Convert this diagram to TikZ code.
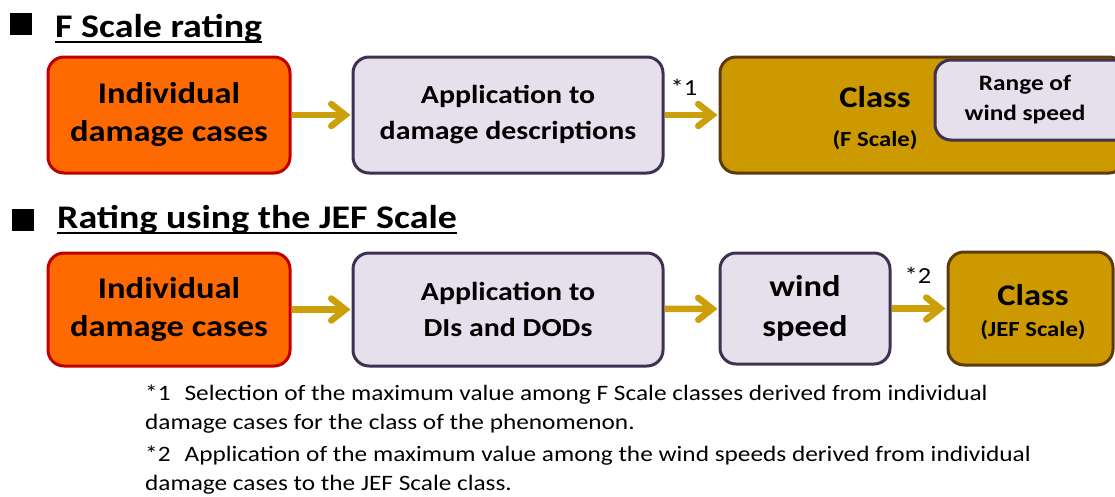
\documentclass[tikz,border=0pt]{standalone}
\usepackage{fontspec}
\setmainfont[FakeStretch=1.15]{Carlito}
\usetikzlibrary{arrows.meta}
\definecolor{orangefill}{HTML}{FF6A00}
\definecolor{redline}{HTML}{C00000}
\definecolor{lavfill}{HTML}{E6E0EC}
\definecolor{lavline}{HTML}{3F3151}
\definecolor{goldfill}{HTML}{CC9900}
\definecolor{brownline}{HTML}{5C3A0C}
\definecolor{arrowcol}{HTML}{CCA00A}
\tikzset{
  x=1pt, y=-1pt,
  box/.style={draw, line width=3pt, rounded corners=16pt, inner sep=0pt, align=center},
  orangebox/.style={box, draw=redline, fill=orangefill},
  lavbox/.style={box, draw=lavline, fill=lavfill},
  goldbox/.style={box, draw=brownline, fill=goldfill},
  big/.style={font=\bfseries\fontsize{30}{38}\selectfont},
  mid/.style={font=\bfseries\fontsize{22}{30}\selectfont},
  small/.style={font=\bfseries\fontsize{21.5}{25}\selectfont},
  flow/.style={draw=arrowcol, line width=6.5pt, shorten >=1pt, -{Straight Barb[length=14pt,width=22pt,line cap=round]}},
  title/.style={font=\bfseries\fontsize{33}{38}\selectfont, anchor=base west, inner sep=0pt},
  note/.style={font=\fontsize{22}{25}\selectfont, anchor=base west, inner sep=0pt},
  star/.style={font=\fontsize{23}{26}\selectfont, inner sep=0pt},
}
\begin{document}
\begin{tikzpicture}
\useasboundingbox (0,0) rectangle (1115,496);
\clip (0,0) rectangle (1115,496);
% headings
\fill (10,13) rectangle (32,35);
\node[title] (t1) at (55,37) {F Scale rating};
\draw[line width=2pt] ([yshift=-5pt]t1.base west) -- ([yshift=-5pt]t1.base east);
\fill (12,209) rectangle (34,231);
\node[title] (t2) at (57,228) {Rating using the JEF Scale};
\draw[line width=2pt] ([yshift=-5pt]t2.base west) -- ([yshift=-5pt]t2.base east);
% row 1
\node[orangebox, big, minimum width=242pt, minimum height=116pt] (o1) at (169,115) {Individual\\damage cases};
\node[lavbox, minimum width=310pt, minimum height=116pt, font=\bfseries\fontsize{26}{36}\selectfont] (a1) at (508,115) {Application to\\damage descriptions};
\node[goldbox, minimum width=405pt, minimum height=116pt] (c1) at (922.5,115) {};
\node[lavbox, mid, minimum width=200pt, minimum height=80pt] (r1) at (1035,100) {\hspace*{-20pt}Range of\\\hspace*{-20pt}wind speed};
\node[big, inner sep=0pt] (cl1) at (875,97) {Class};
\node[small, inner sep=0pt] (fs1) at (875,140) {(F Scale)};
\draw[flow] (o1) -- (a1);
\draw[flow] (a1) -- (c1);
\node[star] (s1) at (684,87) {*1};
% row 2
\node[orangebox, big, minimum width=242pt, minimum height=113pt] (o2) at (169,309.5) {Individual\\damage cases};
\node[lavbox, minimum width=310pt, minimum height=113pt, font=\bfseries\fontsize{26}{36}\selectfont] (a2) at (508,309.5) {Application to\\DIs and DODs};
\node[lavbox, minimum width=170pt, minimum height=111pt, font=\bfseries\fontsize{30}{40}\selectfont] (w2) at (805,308.5) {wind\\speed};
\node[goldbox, minimum width=165pt, minimum height=113pt] (c2) at (1030.5,308.5) {};
\node[big, inner sep=0pt] (cl2) at (1033,295) {Class};
\node[small, inner sep=0pt] (fs2) at (1033,330) {(JEF Scale)};
\draw[flow] (o2) -- (a2);
\draw[flow] (a2) -- (w2);
\draw[flow] (w2) -- (c2);
\node[star] (s2) at (918,275) {*2};
% notes
\node[note] (n1) at (145,400) {*1\hspace{14pt}Selection of the maximum value among F Scale classes derived from individual};
\node[note] (n2) at (145,429) {damage cases for the class of the phenomenon.};
\node[note] (n3) at (145,461) {*2\hspace{14pt}Application of the maximum value among the wind speeds derived from individual};
\node[note] (n4) at (145,490) {damage cases to the JEF Scale class.};
\end{tikzpicture}
\end{document}
